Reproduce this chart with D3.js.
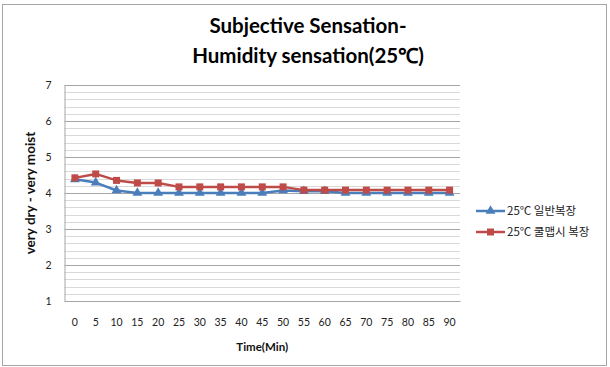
<!DOCTYPE html>
<html>
<head>
<meta charset="utf-8">
<script src="https://cdn.jsdelivr.net/npm/d3@7"></script>
<style>
  html, body { margin: 0; padding: 0; background: #fff; }
  svg { display: block; }
</style>
</head>
<body>
<svg id="chart" width="610" height="367"></svg>
<script>
// Time points (minutes)
const times = ["0","5","10","15","20","25","30","35","40","45","50","55","60","65","70","75","80","85","90"];
// 25℃ regular clothing
const regularWear = [4.38, 4.29, 4.07, 4.0, 4.0, 4.0, 4.0, 4.0, 4.0, 4.0, 4.07, 4.05, 4.05, 4.0, 4.0, 4.0, 4.0, 4.0, 4.0];
// 25℃ cool-biz clothing
const coolWear = [4.42, 4.53, 4.35, 4.28, 4.28, 4.17, 4.17, 4.17, 4.17, 4.17, 4.17, 4.08, 4.08, 4.08, 4.08, 4.08, 4.08, 4.08, 4.08];
const yTicks = [1, 2, 3, 4, 5, 6, 7];
const seriesNames = ["25℃ 일반복장", "25℃ 쿨맵시 복장"];

const svg = d3.select("#chart");
const plot = { left: 64.5, right: 460, top: 85, bottom: 301 };

// outer chart border
svg.append("rect")
  .attr("x", 2.5).attr("y", 4.5).attr("width", 604).attr("height", 361)
  .attr("fill", "none").attr("stroke", "#a6a6a6").attr("stroke-width", 1);

const x = d3.scaleBand().domain(times).range([plot.left, plot.right]);
const y = d3.scaleLinear().domain([1, 7]).range([plot.bottom, plot.top]);

// minor gridlines every 0.2
const minor = d3.range(1, 7.001, 0.2).map(v => +v.toFixed(1)).filter(v => !yTicks.includes(v));
svg.append("g").selectAll("line").data(minor).join("line")
  .attr("x1", plot.left).attr("x2", plot.right)
  .attr("y1", d => Math.round(y(d)) + 0.5).attr("y2", d => Math.round(y(d)) + 0.5)
  .attr("stroke", "#d9d9d9").attr("stroke-width", 1);
// major gridlines
svg.append("g").selectAll("line").data(yTicks).join("line")
  .attr("x1", plot.left).attr("x2", plot.right)
  .attr("y1", d => Math.round(y(d)) + 0.5).attr("y2", d => Math.round(y(d)) + 0.5)
  .attr("stroke", "#a6a6a6").attr("stroke-width", 1);

// y axis
const yAxis = svg.append("g")
  .attr("transform", `translate(${plot.left},0)`)
  .call(d3.axisLeft(y).tickValues(yTicks).tickFormat(d3.format("d")).tickSize(0).tickPadding(13));
yAxis.select(".domain").attr("stroke", "#a6a6a6");
yAxis.selectAll("text")
  .attr("font-family", "Lato, 'Open Sans', sans-serif").attr("font-size", 10.5).attr("fill", "#222");

// x axis
const xAxis = svg.append("g")
  .attr("transform", `translate(0,${plot.bottom})`)
  .call(d3.axisBottom(x).tickSize(0).tickPadding(18));
xAxis.select(".domain").attr("stroke", "#a6a6a6");
xAxis.selectAll("text")
  .attr("font-family", "Lato, 'Open Sans', sans-serif").attr("font-size", 10.5).attr("fill", "#222");

// titles
const title = svg.append("text")
  .attr("text-anchor", "middle")
  .attr("font-family", "Lato, 'Open Sans', sans-serif")
  .attr("font-weight", "bold").attr("font-size", 20.5).attr("fill", "#000");
title.append("tspan").attr("x", 308).attr("y", 33).text("Subjective Sensation-");
title.append("tspan").attr("x", 308).attr("y", 63).text("Humidity sensation(25℃)");

svg.append("text")
  .attr("x", (plot.left + plot.right) / 2).attr("y", 351)
  .attr("text-anchor", "middle")
  .attr("font-family", "Lato, 'Open Sans', sans-serif")
  .attr("font-weight", "bold").attr("font-size", 11.5).attr("fill", "#111")
  .text("Time(Min)");

svg.append("text")
  .attr("transform", `translate(35,${(plot.top + plot.bottom) / 2}) rotate(-90)`)
  .attr("text-anchor", "middle")
  .attr("font-family", "Lato, 'Open Sans', sans-serif")
  .attr("font-weight", "bold").attr("font-size", 13.5).attr("fill", "#111")
  .text("very dry - very moist");

// series
const series = [
  { name: seriesNames[0], values: regularWear, color: "#4a7ebb", shape: d3.symbolTriangle },
  { name: seriesNames[1], values: coolWear, color: "#be4b48", shape: d3.symbolSquare }
];
const line = d3.line()
  .x((d, i) => x(times[i]) + x.bandwidth() / 2)
  .y(d => y(d));

series.forEach(s => {
  svg.append("path")
    .attr("d", line(s.values))
    .attr("fill", "none").attr("stroke", s.color).attr("stroke-width", 2.5)
    .attr("stroke-linejoin", "round");
  svg.append("g").selectAll("path").data(s.values).join("path")
    .attr("transform", (d, i) => `translate(${x(times[i]) + x.bandwidth() / 2},${y(d)})`)
    .attr("d", d3.symbol().type(s.shape).size(s.shape === d3.symbolSquare ? 49 : 42))
    .attr("fill", s.color);
});

// legend
const legend = svg.append("g");
series.forEach((s, i) => {
  const ly = 211 + i * 21;
  legend.append("line")
    .attr("x1", 476).attr("x2", 505).attr("y1", ly).attr("y2", ly)
    .attr("stroke", s.color).attr("stroke-width", 2.5);
  legend.append("path")
    .attr("transform", `translate(490.5,${ly})`)
    .attr("d", d3.symbol().type(s.shape).size(s.shape === d3.symbolSquare ? 49 : 42))
    .attr("fill", s.color);
  legend.append("text")
    .attr("x", 507).attr("y", ly + 4)
    .attr("font-family", "'Noto Sans CJK KR', sans-serif")
    .attr("font-size", 11.5).attr("fill", "#222")
    .text(s.name);
});
</script>
</body>
</html>
